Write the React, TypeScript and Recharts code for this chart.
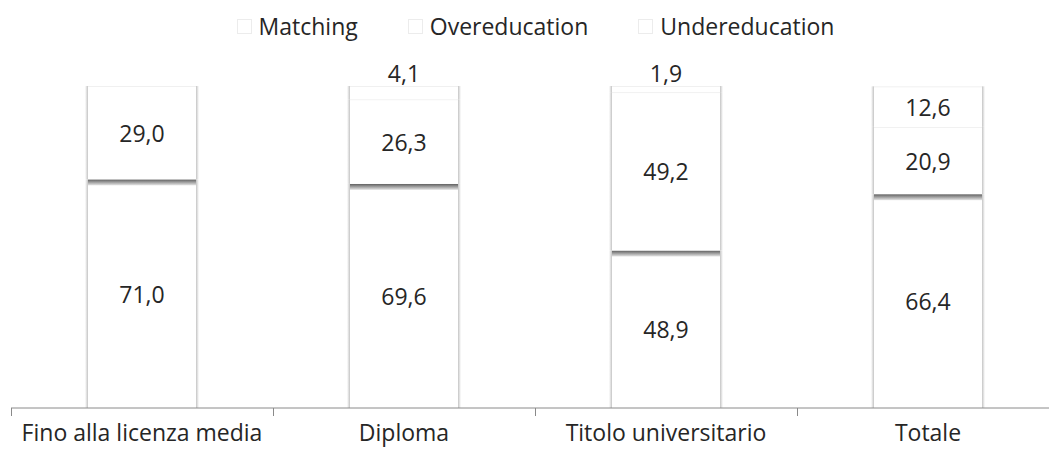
import React from 'react';
import { BarChart, Bar, XAxis, YAxis, Legend, LabelList } from 'recharts';

// Quote percentuali per titolo di studio
const categories = ['Fino alla licenza media', 'Diploma', 'Titolo universitario', 'Totale'];
const matching = [71.0, 69.6, 48.9, 66.4];
const overeducation = [29.0, 26.3, 49.2, 20.9];
const undereducation = [0, 4.1, 1.9, 12.6];
const seriesNames = ['Matching', 'Overeducation', 'Undereducation'];

const data = categories.map((name, i) => ({
  name,
  matching: matching[i],
  overeducation: overeducation[i],
  undereducation: undereducation[i],
}));

const FONT = '"Open Sans", sans-serif';
const TEXT = '#262626';
const AXIS = '#8a8a8a';
const BAND = 262;
const fmt = (v: number) => v.toFixed(1).replace('.', ',');

// white segment with soft side shadows; the bottom series gets a dark top bevel
function makeShape(bevel: boolean) {
  return (props: any) => {
    const { x, y, width, height } = props;
    if (!height || height <= 0) return null;
    return (
      <g>
        <rect x={x - 3} y={y} width={3} height={height} fill="url(#sideL)" />
        <rect x={x + width} y={y} width={3} height={height} fill="url(#sideR)" />
        <rect x={x} y={y} width={width} height={height} fill="#ffffff" />
        <line x1={x} x2={x + width} y1={y + 0.5} y2={y + 0.5} stroke="#f0f0f0" />
        {bevel && <rect x={x} y={y} width={width} height={6} fill="url(#bevel)" />}
      </g>
    );
  };
}

const renderLabel = (placeTop: boolean) => (props: any) => {
  const { x, y, width, height, value } = props;
  if (!value) return null;
  const above = placeTop && value < 5;
  const cy = above ? y - 13 : y + height / 2;
  return (
    <text x={x + width / 2} y={cy} textAnchor="middle" dominantBaseline="central"
      fontFamily={FONT} fontSize={23} fill={TEXT}>
      {fmt(value)}
    </text>
  );
};

// category label plus a tick mark on the left boundary of each category
function CategoryTick(props: any) {
  const { x, y, payload } = props;
  const tx = Math.round(x - BAND / 2) + 0.5;
  return (
    <g>
      <line x1={tx} x2={tx} y1={y} y2={y + 8} stroke={AXIS} />
      <text x={x} y={y + 33} textAnchor="middle" fontFamily={FONT} fontSize={23} fill={TEXT}>
        {payload.value}
      </text>
    </g>
  );
}

function LegendContent() {
  return (
    <div style={{ display: 'flex', justifyContent: 'center', height: 40, alignItems: 'center', fontFamily: FONT, fontSize: 23, color: TEXT, paddingLeft: 22 }}>
      {seriesNames.map((n) => (
        <span key={n} style={{ display: 'flex', alignItems: 'center', margin: '0 25px' }}>
          <span style={{ width: 13, height: 13, border: '1px solid #ececec', background: '#fff', marginRight: 7 }} />
          {n}
        </span>
      ))}
    </div>
  );
}

export default function App() {
  return (
    <div style={{ position: 'fixed', left: 0, top: 0, width: 1049, height: 453, overflow: 'hidden', background: '#fff' }}>
      <BarChart width={1059} height={453} data={data} margin={{ top: 46, right: 0, left: 11, bottom: 0 }} barSize={108}>
        <defs>
          <linearGradient id="sideL" x1="0" y1="0" x2="1" y2="0">
            <stop offset="0%" stopColor="#ffffff" />
            <stop offset="100%" stopColor="#c4c4c4" />
          </linearGradient>
          <linearGradient id="sideR" x1="0" y1="0" x2="1" y2="0">
            <stop offset="0%" stopColor="#c4c4c4" />
            <stop offset="100%" stopColor="#ffffff" />
          </linearGradient>
          <linearGradient id="bevel" x1="0" y1="0" x2="0" y2="1">
            <stop offset="0%" stopColor="#5e5e5e" />
            <stop offset="100%" stopColor="#e6e6e6" />
          </linearGradient>
        </defs>
        <Legend verticalAlign="top" content={<LegendContent />} wrapperStyle={{ top: 6, left: 0, width: 1049 }} />
        <XAxis dataKey="name" axisLine={{ stroke: AXIS }} tickLine={false} tickSize={0} tickMargin={0}
          height={45} interval={0} tick={<CategoryTick />} />
        <YAxis hide domain={[0, 100]} />
        <Bar dataKey="matching" stackId="a" isAnimationActive={false} shape={makeShape(true)}>
          <LabelList dataKey="matching" content={renderLabel(false)} />
        </Bar>
        <Bar dataKey="overeducation" stackId="a" isAnimationActive={false} shape={makeShape(false)}>
          <LabelList dataKey="overeducation" content={renderLabel(false)} />
        </Bar>
        <Bar dataKey="undereducation" stackId="a" isAnimationActive={false} shape={makeShape(false)}>
          <LabelList dataKey="undereducation" content={renderLabel(true)} />
        </Bar>
      </BarChart>
    </div>
  );
}
